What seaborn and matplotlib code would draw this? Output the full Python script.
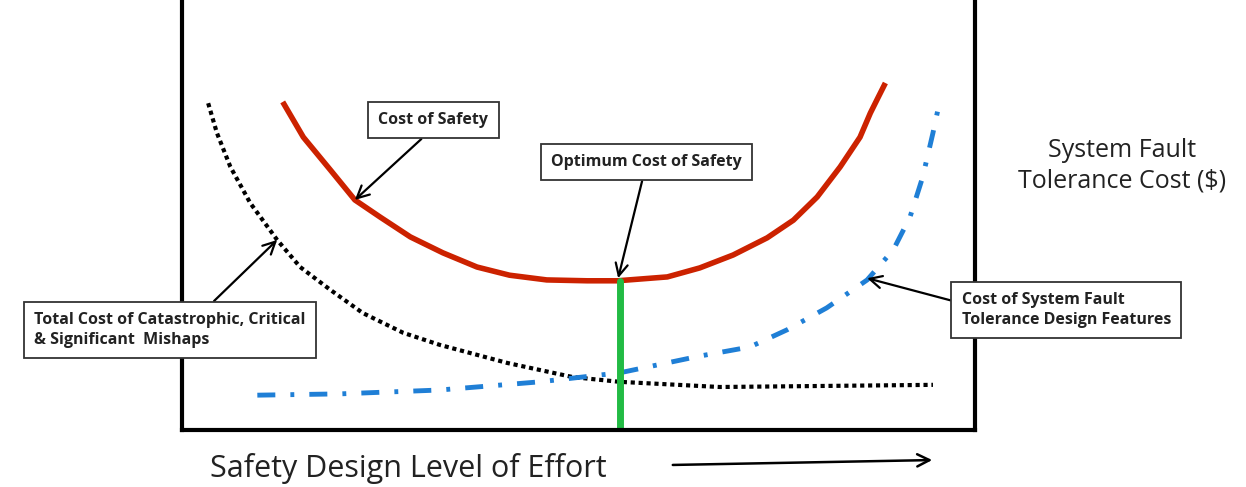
import seaborn as sns
import matplotlib.pyplot as plt
import pandas as pd

# cost of safety (red U curve)
safety_x = [12.7, 15.3, 18.7, 21.8, 25.0, 28.8, 32.9, 37.2, 41.3, 46.0, 51.1, 54.9,
            61.2, 65.3, 69.5, 73.8, 77.1, 80.1, 83.0, 85.5, 86.8, 87.8, 88.7]
safety_y = [76.3, 68.1, 60.5, 53.5, 49.5, 44.9, 41.2, 37.9, 36.0, 34.9, 34.7, 34.7,
            35.6, 37.7, 40.7, 44.7, 48.8, 54.2, 61.2, 68.1, 73.7, 77.4, 80.7]

# total cost of mishaps (black dotted)
mishap_x = [3.3, 4.4, 6.1, 8.6, 12.0, 14.9, 18.7, 22.8, 27.9, 32.5, 41.0, 49.3, 55.2, 67.8, 94.7]
mishap_y = [76.0, 69.1, 61.2, 52.8, 44.2, 37.9, 32.6, 27.2, 22.6, 19.8, 15.6, 12.3, 11.2, 10.0, 10.5]

# fault tolerance design features (blue dash-dot)
fault_x = [9.5, 19.9, 32.5, 45.1, 55.2, 65.3, 71.6, 76.3, 81.3, 86.4, 89.7, 91.8, 93.4, 94.7, 95.5]
fault_y = [8.1, 8.4, 9.3, 11.2, 13.3, 17.2, 19.3, 23.3, 28.4, 34.9, 41.9, 49.5, 58.8, 69.1, 76.0]

optimum_x = [55.2, 55.2]
optimum_y = [0, 34.7]

labels = ["Cost of Safety", "Optimum Cost of Safety",
          "Total Cost of Catastrophic, Critical\n& Significant  Mishaps",
          "Cost of System Fault\nTolerance Design Features"]

sns.set_style("white")
plt.rcParams['font.family'] = ['Open Sans', 'DejaVu Sans']

fig = plt.figure(figsize=(12.46, 4.87), dpi=100)
ax = fig.add_axes([182/1246, 57/487, 793/1246, 430/487])

sns.lineplot(data=pd.DataFrame({'x': safety_x, 'y': safety_y}), x='x', y='y', sort=False,
             estimator=None, color='#cc2200', lw=4, ax=ax,
             solid_capstyle='butt', solid_joinstyle='round')
sns.lineplot(data=pd.DataFrame({'x': mishap_x, 'y': mishap_y}), x='x', y='y', sort=False,
             estimator=None, color='black', lw=3, ax=ax, linestyle=(0, (1, 0.9)))
sns.lineplot(data=pd.DataFrame({'x': fault_x, 'y': fault_y}), x='x', y='y', sort=False,
             estimator=None, color='#1f7fd6', lw=3.5, ax=ax, linestyle=(0, (3.7, 3.1, 0.8, 3.1)))
sns.lineplot(x=optimum_x, y=optimum_y, estimator=None, color='#22bb44', lw=5, ax=ax)

ax.set_xlim(0, 100)
ax.set_ylim(0, 100)
ax.set_xticks([])
ax.set_yticks([])
ax.set_xlabel('')
ax.set_ylabel('')
ax.spines['top'].set_visible(False)
for s in ['left', 'right', 'bottom']:
    ax.spines[s].set_linewidth(3)
    ax.spines[s].set_color('black')

box = dict(boxstyle='square,pad=0.65', fc='white', ec='#333333', lw=1.3)
arrow = dict(arrowstyle='->', color='black', lw=1.6, mutation_scale=22)

notes = [
    (labels[0], (21.8, 53.5), (31.7, 72.1), (0.5, 0)),
    (labels[1], (55.0, 35.3), (58.6, 62.3), (0.49, 0)),
    (labels[2], (12.0, 44.2), (-1.5, 23.3), (0.62, 1)),
    (labels[3], (86.4, 35.3), (111.5, 27.9), (0, 0.69)),
]
for txt, xy, xyt, rp in notes:
    ax.annotate(txt, xy=xy, xytext=xyt, ha='center', va='center', multialignment='left',
                fontsize=11.5, fontweight='bold', color='#222222', bbox=box,
                arrowprops=dict(arrow, relpos=rp, shrinkA=0, shrinkB=0),
                annotation_clip=False, linespacing=1.3)

fig.text(1122/1246, 1 - 166/487, "System Fault\nTolerance Cost ($)", ha='center', va='center',
         fontsize=18, color='#222222', linespacing=1.3)
fig.text(210/1246, 1 - 468/487, "Safety Design Level of Effort", ha='left', va='center',
         fontsize=22, color='#222222')
ax.annotate('', xy=(935, 27), xytext=(670, 22), xycoords='figure pixels',
            textcoords='figure pixels', annotation_clip=False,
            arrowprops=dict(arrowstyle='->', color='black', lw=1.8, mutation_scale=22))

fig.savefig('out.png', dpi=100)
